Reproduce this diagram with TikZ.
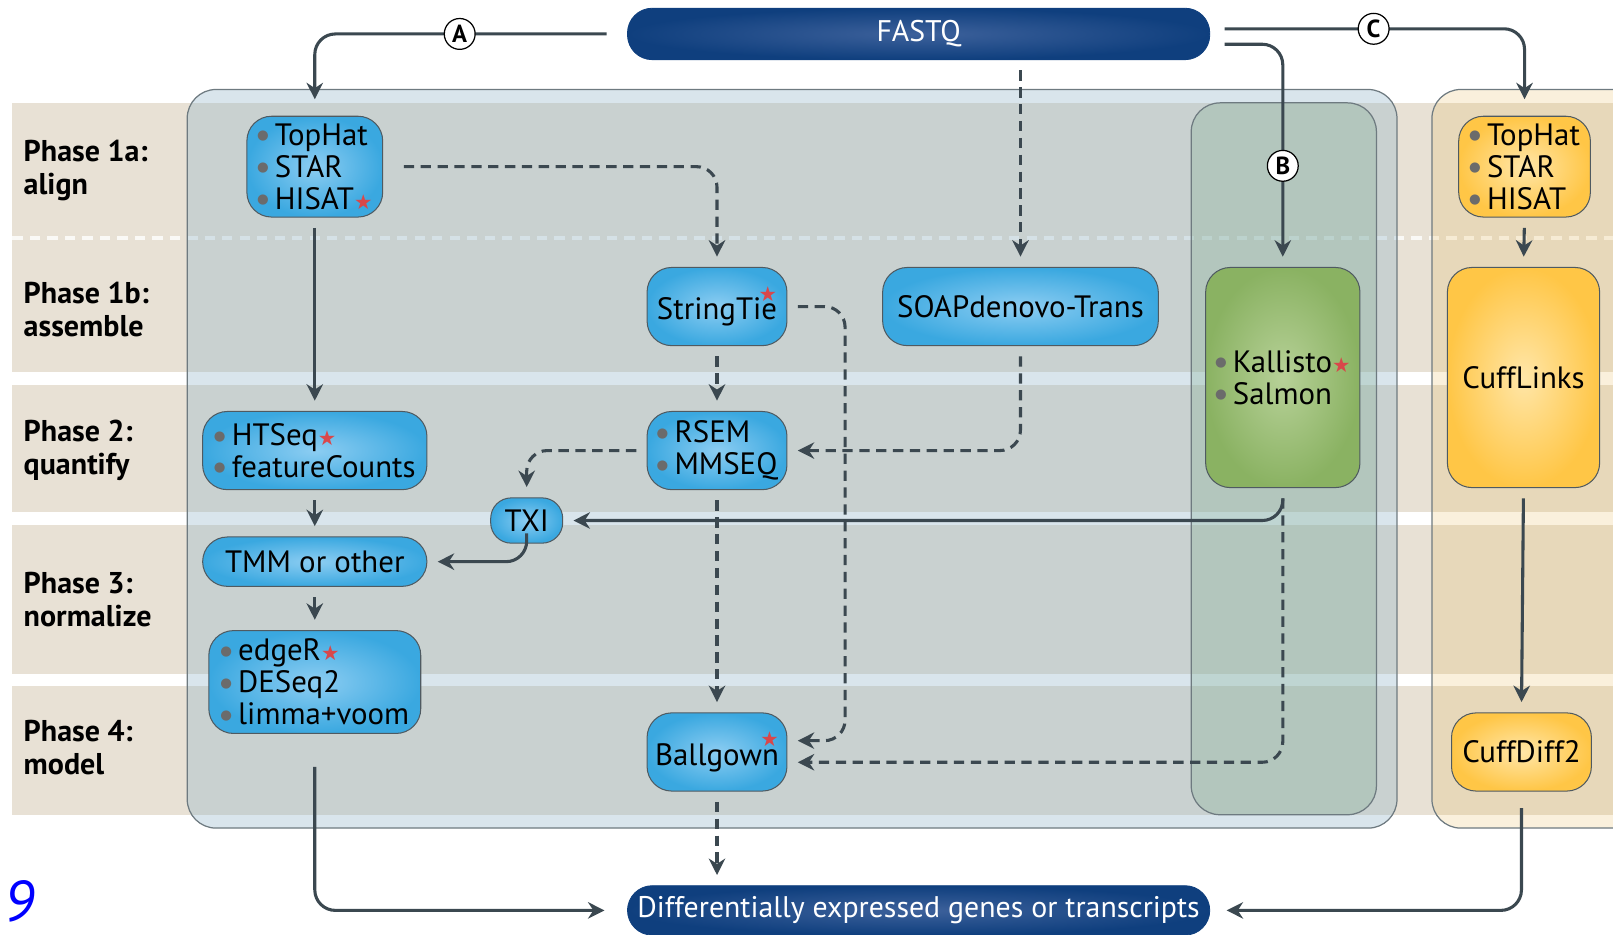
\documentclass[tikz,border=0pt]{standalone}
\usepackage{fontspec}
\setmainfont{PT Sans}
\newfontfamily\symfont{DejaVu Sans}
\usetikzlibrary{arrows.meta}

\definecolor{bandbeige}{HTML}{E8E1D5}
\definecolor{panelblue}{RGB}{146,181,201}
\definecolor{panelgreen}{RGB}{115,167,134}
\definecolor{panelgold}{RGB}{230,180,80}
\definecolor{linegray}{HTML}{3B4850}
\definecolor{rimgray}{HTML}{6E7A80}
\definecolor{toolblue}{HTML}{3AA8E0}
\definecolor{toolblueIn}{HTML}{8CCDF2}
\definecolor{toolgreen}{HTML}{8AB262}
\definecolor{toolgreenIn}{HTML}{B7D198}
\definecolor{toolgold}{HTML}{FFC646}
\definecolor{toolgoldIn}{HTML}{FFE6A8}
\definecolor{fastqblue}{HTML}{0F3F7E}
\definecolor{fastqblueIn}{HTML}{3D619B}
\definecolor{dotgray}{HTML}{6B6B6B}
\definecolor{starred}{HTML}{D9474A}

\newcommand{\bul}{{\color{dotgray}\raisebox{0.35ex}{\symfont\fontsize{6.5}{6.5}\selectfont ●}}\hspace{3pt}}
\newcommand{\rstar}{{\color{starred}\symfont\fontsize{10}{10}\selectfont ★}}
\newcommand{\topstar}{\makebox[0pt][r]{\raisebox{1.2ex}{\rstar}}}

\begin{document}
\begin{tikzpicture}[x=0.5pt,y=-0.5pt,
    tool/.style={draw=linegray!90, line width=0.5pt, rounded corners=12pt,
      inner color=toolblueIn, outer color=toolblue, align=left,
      font=\fontsize{15}{15.5}\selectfont, inner sep=2pt},
    greentool/.style={tool, inner color=toolgreenIn, outer color=toolgreen},
    goldtool/.style={tool, inner color=toolgoldIn, outer color=toolgold},
    endbox/.style={draw=fastqblue, rounded corners=12pt, inner color=fastqblueIn,
      outer color=fastqblue, text=white, minimum width=283pt,
      font=\fontsize{14.5}{15.5}\selectfont},
    phase/.style={anchor=west, align=left, font=\bfseries\fontsize{14.6}{16}\selectfont},
    route/.style={circle, draw=black, fill=white, line width=0.6pt, inner sep=0pt,
      minimum size=15pt, font=\bfseries\fontsize{12}{12}\selectfont},
    flow/.style={draw=linegray, line width=1.5pt, rounded corners=10pt,
      -{Stealth[length=8pt,width=8pt]}, shorten <=5pt, shorten >=5pt},
    dflow/.style={flow, dash pattern=on 5pt off 3.2pt}]

    \useasboundingbox (0,0) rectangle (1568,908);

    % Phase bands
    \fill[bandbeige] (12,100) rectangle (1568,362);
    \fill[bandbeige] (12,374) rectangle (1568,498);
    \fill[bandbeige] (12,510) rectangle (1568,655);
    \fill[bandbeige] (12,667) rectangle (1568,792);
    \draw[white, line width=2pt, dash pattern=on 5pt off 3.5pt, opacity=0.8] (12,231) -- (1568,231);

    % Panels
    \draw[rimgray, line width=0.6pt, fill=panelblue, fill opacity=0.35, rounded corners=14pt]
        (182,87) rectangle (1358,805);
    \draw[rimgray, line width=0.6pt, fill=panelgreen, fill opacity=0.25, rounded corners=14pt]
        (1158,100) rectangle (1338,792);
    \draw[rimgray, line width=0.6pt, fill=panelgold, fill opacity=0.2, rounded corners=14pt]
        (1392,87) rectangle (1640,805);

    % Phase labels
    \node[phase] (p1a) at (16,166) {Phase 1a:\\align};
    \node[phase] (p1b) at (16,301) {Phase 1b:\\assemble};
    \node[phase] (p2) at (16,438) {Phase 2:\\quantify};
    \node[phase] (p3) at (16,583) {Phase 3:\\normalize};
    \node[phase] (p4) at (16,727) {Phase 4:\\model};

    % Start and end
    \node[endbox, minimum height=25pt] (fastq) at (893,33) {FASTQ};
    \node[endbox, minimum height=24pt] (degenes) at (893,885) {Differentially expressed genes or transcripts};

    % Tools
    \node[tool, minimum width=66pt, minimum height=49pt] (align) at (306,162)
        {\bul TopHat\\\bul STAR\\\bul HISAT\rstar};
    \node[tool, minimum width=68pt, minimum height=38pt] (stringtie) at (697,298) {StringTie\topstar};
    \node[tool, minimum width=134pt, minimum height=38pt] (soap) at (992,298) {SOAPdenovo-Trans};
    \node[greentool, minimum width=75pt, minimum height=107pt] (kallisto) at (1247,367)
        {\bul Kallisto\rstar\\\bul Salmon};
    \node[tool, minimum width=109pt, minimum height=38pt] (htseq) at (306,438)
        {\bul HTSeq\rstar\\\bul featureCounts};
    \node[tool, minimum width=68pt, minimum height=38pt] (rsem) at (697,438)
        {\bul RSEM\\\bul MMSEQ};
    \node[tool, minimum width=35pt, minimum height=22pt, rounded corners=10pt] (txi) at (512,506) {TXI};
    \node[tool, minimum width=109pt, minimum height=24pt] (tmm) at (306,546) {TMM or other};
    \node[tool, minimum width=103pt, minimum height=50pt] (edger) at (306,663)
        {\bul edgeR\rstar\\\bul DESeq2\\\bul limma+voom};
    \node[tool, minimum width=68pt, minimum height=38pt] (ballgown) at (697,731) {Ballgown\topstar};

    % Tuxedo column
    \node[goldtool, minimum width=64pt, minimum height=49pt] (cufalign) at (1482,162)
        {\bul TopHat\\\bul STAR\\\bul HISAT};
    \node[goldtool, minimum width=74pt, minimum height=107pt] (cufflinks) at (1481,367) {CuffLinks};
    \node[goldtool, minimum width=68pt, minimum height=38pt] (cuffdiff) at (1479,731) {CuffDiff2};

    % Routes A, B, C from FASTQ
    \draw[flow, shorten <=10pt, shorten >=8pt] (fastq.west) -| (align.north)
        node[route, pos=0.268] {A};
    \draw[flow, shorten <=7pt] ([yshift=-5pt]fastq.east) -| (kallisto.north)
        node[route, pos=0.773] {B};
    \draw[flow, shorten <=7pt, shorten >=8pt] ([yshift=2.5pt]fastq.east) -| (cufalign.north)
        node[route, pos=0.26] {C};
    \draw[dflow] (fastq.south -| soap.north) -- (soap.north);

    % Alignment based
    \draw[dflow, shorten <=10pt] (align.east) -| (stringtie.north);
    \draw[flow] (align.south) -- (htseq.north);
    \draw[flow] (htseq.south) -- (tmm.north);
    \draw[flow] (tmm.south) -- (edger.north);
    \draw[flow, shorten <=16pt, shorten >=11pt] (edger.south) |- (degenes.west);

    % Assembly based
    \draw[dflow] (stringtie.south) -- (rsem.north);
    \draw[dflow] (stringtie.east) -- ++(56,0) |- ([yshift=5.5pt]ballgown.east);
    \draw[dflow] (soap.south) |- (rsem.east);
    \draw[dflow] (rsem.west) -| (txi.north);
    \draw[dflow] (rsem.south) -- (ballgown.north);
    \draw[dflow] (ballgown.south) -- (ballgown.south |- degenes.north);

    % Pseudo-alignment
    \draw[dflow] (kallisto.south) |- ([yshift=-5pt]ballgown.east);
    \draw[flow] (kallisto.south) |- (txi.east);
    \draw[flow] (txi.south) |- (tmm.east);

    % Tuxedo
    \draw[flow] (cufalign.south) -- (cufflinks.north);
    \draw[flow] (cufflinks.south) -- (cuffdiff.north);
    \draw[flow, shorten <=8pt, shorten >=8pt] (cuffdiff.south) |- (degenes.east);

    % Page mark
    \node[text=blue, inner sep=0pt, font=\itshape\fontsize{28}{28}\selectfont] (pagenum) at (19,876) {9};
\end{tikzpicture}
\end{document}
